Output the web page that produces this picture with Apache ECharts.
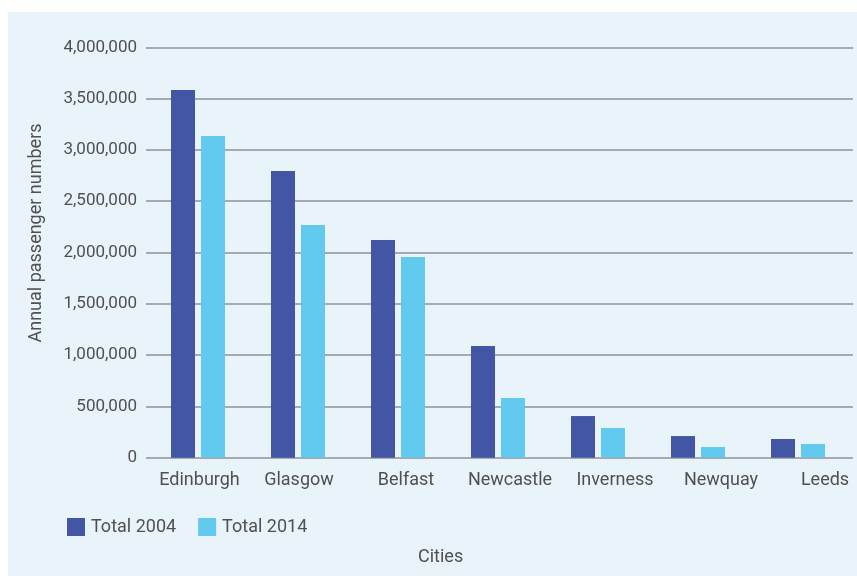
<!DOCTYPE html>
<html>
<head>
<meta charset="utf-8">
<script src="https://cdn.jsdelivr.net/npm/echarts@6/dist/echarts.min.js"></script>
<style>
  html, body { margin: 0; padding: 0; background: #ffffff; }
  #chart { width: 857px; height: 576px; }
</style>
</head>
<body>
<div id="chart"></div>
<script>
// Annual passenger numbers by city
const cities = ['Edinburgh', 'Glasgow', 'Belfast', 'Newcastle', 'Inverness', 'Newquay', 'Leeds'];
const total2004 = [3585000, 2794000, 2122000, 1089000, 406000, 211000, 182000];
const total2014 = [3135000, 2268000, 1956000, 582000, 289000, 104000, 134000];
const yTicks = { min: 0, max: 4000000, interval: 500000 };

// horizontal nudge (px) applied to each category label
const labelNudge = [1.5, 1, 8, 12, 17, 23, 27];

const TEXT = '#505050';
const FONT = 'Roboto, "DejaVu Sans", sans-serif';
const GRID_LINE = '#a4aab0';

const rich = {};
labelNudge.forEach((n, i) => {
  rich['c' + i] = {
    fontFamily: FONT, fontSize: 18, color: TEXT,
    padding: [0, 0, 0, Math.round(n * 2)]
  };
});

const chart = echarts.init(document.getElementById('chart'), null, { renderer: 'canvas' });

chart.setOption({
  backgroundColor: '#ffffff',
  animation: false,
  textStyle: { fontFamily: FONT },
  graphic: [
    {
      type: 'rect', z: -10, silent: true,
      shape: { x: 8, y: 12, width: 849, height: 564 },
      style: { fill: '#e8f4fa' }
    },
    {
      type: 'text', silent: true,
      x: 36, y: 233, rotation: Math.PI / 2,
      style: {
        text: 'Annual passenger numbers',
        fontFamily: FONT, fontSize: 18, fill: TEXT,
        align: 'center', verticalAlign: 'middle'
      }
    }
  ],
  title: {
    text: 'Cities',
    left: 418, top: 548,
    padding: 0,
    textStyle: { fontFamily: FONT, fontSize: 18, fontWeight: 'normal', color: TEXT }
  },
  legend: {
    left: 67, top: 518,
    itemWidth: 18, itemHeight: 18, itemGap: 22,
    padding: 0,
    icon: 'rect',
    textStyle: { fontFamily: FONT, fontSize: 18, color: TEXT, padding: [0, 0, 0, 1] },
    data: ['Total 2004', 'Total 2014']
  },
  grid: [
    { left: 148, right: 9, top: 47.3, bottom: 118.3 },
    { left: 146, right: 4, top: 47.3, bottom: 118.3 }
  ],
  xAxis: [
    {
      type: 'category', gridIndex: 0,
      data: cities,
      axisTick: { show: false },
      axisLine: { show: false },
      axisLabel: {
        margin: 14,
        interval: 0,
        formatter: (v, i) => '{c' + i + '|' + v + '}',
        rich: rich
      }
    },
    { type: 'value', gridIndex: 1, show: false, min: 0, max: 1 }
  ],
  yAxis: [
    {
      type: 'value', gridIndex: 0,
      min: yTicks.min, max: yTicks.max, interval: yTicks.interval,
      splitLine: { show: false },
      axisLine: { show: false },
      axisTick: { show: false },
      axisLabel: {
        margin: 11,
        fontFamily: FONT, fontSize: 17, color: TEXT,
        formatter: v => v.toLocaleString('en-US')
      }
    },
    {
      // full-width reference lines behind the bars
      type: 'value', gridIndex: 1,
      min: yTicks.min, max: yTicks.max, interval: yTicks.interval,
      axisLine: { show: false },
      axisTick: { show: false },
      axisLabel: { show: false },
      splitLine: { show: true, lineStyle: { color: GRID_LINE, width: 2 } },
      z: 0
    }
  ],
  series: [
    {
      name: 'Total 2004', type: 'bar',
      xAxisIndex: 0, yAxisIndex: 0,
      data: total2004,
      barWidth: 24, barGap: '25%',
      itemStyle: { color: '#4355a5' },
      z: 3
    },
    {
      name: 'Total 2014', type: 'bar',
      xAxisIndex: 0, yAxisIndex: 0,
      data: total2014,
      barWidth: 24, barGap: '25%',
      itemStyle: { color: '#62c9ef' },
      z: 3
    }
  ]
});
</script>
</body>
</html>
